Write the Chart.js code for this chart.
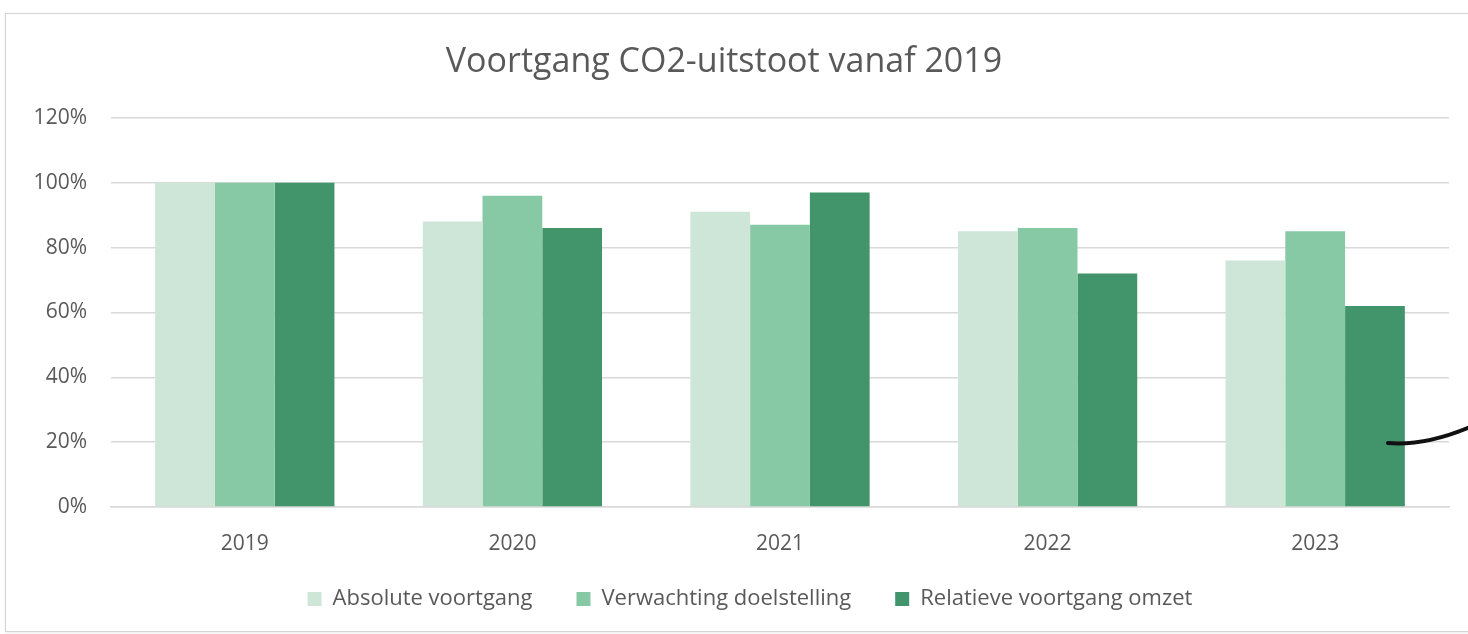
<!DOCTYPE html>
<html>
<head>
<meta charset="utf-8">
<script src="https://cdn.jsdelivr.net/npm/chart.js@4/dist/chart.umd.min.js"></script>
<style>
    body { margin: 0; background: #fff; overflow: hidden; }
    #frame {
        position: absolute; left: 5px; top: 13px; width: 1480px; height: 617px;
        border: 1px solid #d4d4d4; box-shadow: 0 1px 2px rgba(0,0,0,0.08);
    }
    #wrap { position: absolute; left: 0; top: 0; width: 1468px; height: 634px; }
</style>
</head>
<body>
<div id="frame"></div>
<div id="wrap"><canvas id="co2Chart" width="1468" height="634"></canvas></div>
<script>
// Data
const years = ['2019', '2020', '2021', '2022', '2023'];
const absoluteVoortgang = [100, 88, 91, 85, 76];
const verwachtingDoelstelling = [100, 96, 87, 86, 85];
const relatieveVoortgangOmzet = [100, 86, 97, 72, 62];
const yTicks = [0, 20, 40, 60, 80, 100, 120];

const textColor = '#595959';
const fontFamily = "'Open Sans', 'Noto Sans', sans-serif";

// Nudge title and legend, like the Excel layout
const blockNudge = {
    id: 'blockNudge',
    afterLayout(chart) {
        if (chart.titleBlock) {
            chart.titleBlock.left -= 6;
            chart.titleBlock.right -= 6;
        }
        if (chart.legend) {
            chart.legend.left += 20;
            chart.legend.right += 20;
            chart.legend.top -= 23;
            chart.legend.bottom -= 23;
        }
    }
};

// Hand-drawn pen stroke at the right edge of the screenshot
const penStroke = {
    id: 'penStroke',
    afterDraw(chart) {
        const ctx = chart.ctx;
        ctx.save();
        ctx.strokeStyle = '#111';
        ctx.lineWidth = 4;
        ctx.lineCap = 'round';
        ctx.beginPath();
        ctx.moveTo(1388, 443);
        ctx.quadraticCurveTo(1425, 446, 1470, 427);
        ctx.stroke();
        ctx.restore();
    }
};

const ctx = document.getElementById('co2Chart');
new Chart(ctx, {
    type: 'bar',
    data: {
        labels: years,
        datasets: [{
            label: 'Absolute voortgang',
            data: absoluteVoortgang,
            backgroundColor: '#cde6d8'
        }, {
            label: 'Verwachting doelstelling',
            data: verwachtingDoelstelling,
            backgroundColor: '#86c9a4'
        }, {
            label: 'Relatieve voortgang omzet',
            data: relatieveVoortgangOmzet,
            backgroundColor: '#42956b'
        }]
    },
    options: {
        responsive: false,
        animation: false,
        devicePixelRatio: 1,
        layout: { padding: { left: 11, right: 19, top: 0, bottom: -9 } },
        datasets: {
            bar: { categoryPercentage: 0.67, barPercentage: 1.0 }
        },
        plugins: {
            title: {
                display: true,
                text: 'Voortgang CO2-uitstoot vanaf 2019',
                color: textColor,
                font: { family: fontFamily, size: 34, weight: 'normal' },
                padding: { top: 42, bottom: 35 }
            },
            legend: {
                position: 'bottom',
                labels: {
                    color: textColor,
                    font: { family: fontFamily, size: 22 },
                    boxWidth: 14,
                    boxHeight: 14,
                    padding: 44
                }
            },
            tooltip: { enabled: false }
        },
        scales: {
            x: {
                grid: { display: false },
                border: { display: true, color: '#d9d9d9', width: 1.5 },
                afterFit: scale => { scale.height = 60; },
                ticks: {
                    color: textColor,
                    font: { family: fontFamily, size: 21 },
                    padding: 16
                }
            },
            y: {
                min: 0,
                max: 120,
                afterBuildTicks: scale => {
                    scale.ticks = yTicks.map(v => ({ value: v }));
                },
                afterFit: scale => { scale.width = 100; },
                grid: { color: '#d9d9d9', lineWidth: 1.5, drawTicks: false },
                border: { display: false },
                ticks: {
                    color: textColor,
                    font: { family: fontFamily, size: 21 },
                    padding: 24,
                    callback: v => v + '%'
                }
            }
        }
    },
    plugins: [blockNudge, penStroke]
});
</script>
</body>
</html>
